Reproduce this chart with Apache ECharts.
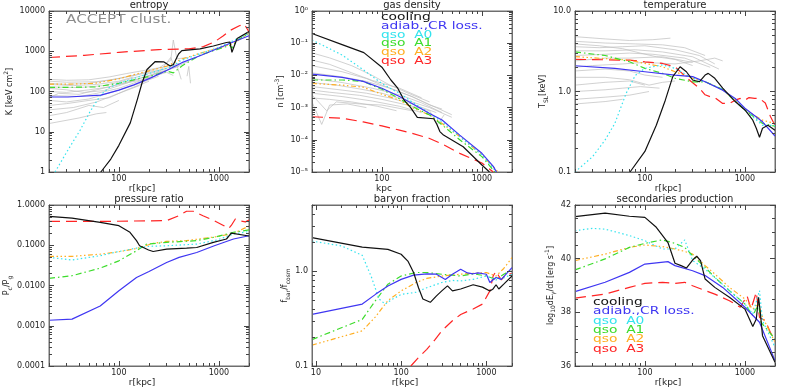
<!DOCTYPE html>
<html>
<head>
<meta charset="utf-8">
<script src="https://cdn.jsdelivr.net/npm/echarts@6/dist/echarts.min.js"></script>
<style>
  html, body { margin: 0; padding: 0; background: #fff; }
  .layer { position: absolute; left: 0; top: 0; width: 789px; height: 388px; }
  #ticks { pointer-events: none; }
</style>
</head>
<body>
<div id="chart" class="layer"></div>
<div id="ticks" class="layer"></div>
<script>
// ---------- data: [r in kpc, value] ----------

// entropy K [keV cm^2]
const entCooling = [[60,0.7],[66,1],[83,2.1],[100,4.6],[130,16.6],[152,60],[170,160],[191,352],[231,555],[280,546],[326,430],[351,470],[395,855],[426,1040],[647,1150],[880,1350],[1190,1650],[1290,1700],[1350,940],[1520,2070],[2000,3070]];
const entAdiab = [[20,73],[31,73],[66,81],[100,108],[141,146],[206,215],[303,338],[426,520],[647,775],[1000,1200],[1390,1700],[2000,2420]];
const entA0 = [[23,1],[30,3.1],[41,11],[52,33],[66,83],[80,125],[100,160],[150,220],[200,280],[300,380],[350,430],[400,560],[650,880],[1000,1250],[1500,2000],[2000,2750]];
const entA1 = [[20,127],[31,127],[58,130],[100,160],[141,195],[206,240],[303,318],[351,290],[426,430],[647,800],[1000,1140],[1290,1400],[1350,1200],[1520,1880],[2000,2800]];
const entA2 = [[20,152],[31,152],[58,160],[100,206],[141,263],[206,330],[303,430],[426,640],[647,890],[1000,1220],[1390,1540],[2000,2800]];
const entA3 = [[20,700],[45,790],[100,940],[250,1100],[500,1150],[700,1300],[900,1700],[1100,2400],[1300,3300],[1600,4300],[1800,4700],[2000,3000]];
const entGray = [
  [[20,200],[30,190],[50,195],[80,230],[120,280],[200,350],[300,420],[400,500]],
  [[20,160],[30,150],[50,160],[80,190],[150,260],[250,380],[330,600],[350,1900],[380,650],[500,700]],
  [[20,130],[40,125],[70,140],[100,170],[200,280],[300,370]],
  [[20,100],[30,95],[50,110],[80,130],[150,200],[250,300],[400,420]],
  [[20,80],[40,75],[60,90],[100,120],[200,220],[300,300],[350,250]],
  [[20,60],[30,55],[50,65],[90,100],[150,150],[250,240]],
  [[20,45],[30,50],[50,60],[80,70],[120,110],[200,180]],
  [[20,35],[35,40],[60,55],[100,90],[160,140]],
  [[20,25],[30,30],[50,45],[70,40],[100,60]],
  [[20,16],[40,22],[60,28],[75,30]],
  [[20,180],[30,170],[60,175],[100,210],[200,300],[300,380],[380,450],[420,200]],
  [[20,120],[30,110],[45,95],[70,105],[110,150],[180,230],[300,330],[500,560]],
  [[20,70],[25,90],[40,85],[60,110],[100,150],[180,200],[260,330],[330,700],[360,400]],
  [[20,150],[35,140],[60,150],[100,180],[140,230]],
  [[480,240],[500,420],[520,160]]
];

// gas density n [cm^-3]
const denCooling = [[20,0.2],[40,0.09],[66,0.051],[100,0.018],[123,0.0072],[144,0.004],[167,0.0017],[194,0.001],[226,0.0005],[330,0.00045],[355,0.0003],[380,0.00018],[413,0.00014],[650,0.000061],[1000,0.0000165],[1190,0.00001]];
const denAdiab = [[20,0.011],[40,0.0087],[65,0.0065],[100,0.004],[150,0.0022],[200,0.00135],[300,0.00066],[400,0.00041],[600,0.00014],[1000,0.000038],[1300,0.000015],[1400,0.00001]];
const denA0 = [[20,0.126],[40,0.043],[65,0.015],[100,0.0056],[130,0.0035],[150,0.0028],[200,0.0015],[300,0.00066],[400,0.00036],[600,0.000126],[1000,0.000034],[1400,0.00001]];
const denA1 = [[20,0.0072],[40,0.0072],[65,0.0065],[100,0.0037],[150,0.0019],[200,0.0011],[300,0.00059],[400,0.00029],[600,0.0001],[1000,0.00003],[1350,0.00001]];
const denA2 = [[20,0.0056],[40,0.005],[65,0.0043],[100,0.0026],[150,0.0017],[200,0.001],[300,0.00059],[400,0.00032],[600,0.000126],[1000,0.000034],[1450,0.00001]];
const denA3 = [[20,0.00052],[40,0.00047],[65,0.00036],[100,0.00027],[150,0.0002],[200,0.00016],[300,0.00011],[400,0.000074],[600,0.000038],[1000,0.000019],[1300,0.00001]];
const denGray = [
  [[20,0.05],[30,0.035],[50,0.02],[80,0.01],[120,0.005],[200,0.0025],[300,0.0015]],
  [[20,0.02],[40,0.013],[70,0.008],[100,0.005],[200,0.0022],[300,0.0012],[400,0.0009]],
  [[20,0.012],[40,0.009],[70,0.0065],[120,0.004],[200,0.0022],[350,0.001],[500,0.0006]],
  [[20,0.008],[40,0.006],[80,0.004],[150,0.0025],[250,0.0014],[400,0.0007]],
  [[20,0.006],[35,0.005],[60,0.0038],[100,0.0028],[200,0.0015],[300,0.001],[500,0.0005]],
  [[20,0.0045],[40,0.0035],[70,0.0028],[120,0.002],[200,0.0013],[350,0.0007]],
  [[20,0.0035],[30,0.003],[60,0.0024],[100,0.0018],[180,0.0012],[300,0.0008],[360,0.0003],[420,0.0006]],
  [[20,0.0028],[40,0.0022],[80,0.0016],[150,0.0011],[250,0.0007]],
  [[20,0.002],[30,0.0018],[50,0.0015],[90,0.0011],[140,0.0008]],
  [[20,0.0015],[25,0.0003],[30,0.0012],[45,0.0013],[70,0.001]],
  [[20,0.0025],[28,0.0008],[35,0.0015],[60,0.0013],[100,0.0012],[200,0.0008]],
  [[20,0.03],[30,0.022],[50,0.012],[80,0.007],[150,0.004],[250,0.002]]
];

// temperature T_SL [keV]
const temCooling = [[71,0.1],[100,0.18],[130,0.38],[160,0.78],[190,1.53],[225,2.03],[260,1.76],[300,1.39],[350,1.32],[400,1.6],[430,1.68],[500,1.46],[600,1.1],[800,0.75],[1000,0.59],[1200,0.44],[1300,0.35],[1400,0.27],[1500,0.35],[1700,0.38],[2000,0.33]];
const temAdiab = [[20,2.09],[50,1.94],[100,1.76],[200,1.6],[300,1.53],[400,1.32],[600,1.04],[800,0.82],[1000,0.62],[1500,0.42],[2000,0.28]];
const temA0 = [[20,0.1],[30,0.155],[40,0.25],[50,0.4],[65,0.95],[80,1.58],[100,1.94],[150,2.14],[200,1.94],[300,1.46],[400,1.32],[600,1.06],[1000,0.59],[1500,0.38],[2000,0.38]];
const temA1 = [[20,3.1],[40,2.8],[70,2.34],[100,1.94],[150,1.68],[200,1.46],[300,1.32],[400,1.32],[600,1.06],[1000,0.59],[1500,0.4],[2000,0.37]];
const temA2 = [[20,2.71],[70,2.45],[100,2.23],[150,2.03],[200,1.76],[300,1.46],[400,1.32],[600,1.06],[1000,0.59],[1500,0.44],[2000,0.4]];
const temA3 = [[20,2.51],[70,2.45],[100,2.34],[150,2.23],[200,2.03],[280,1.38],[350,1.1],[400,0.91],[450,0.86],[500,0.84],[600,0.71],[700,0.71],[800,0.78],[900,0.82],[1000,0.78],[1100,0.84],[1250,0.82],[1400,0.82],[1600,0.72],[1800,0.49],[2000,0.38]];
const temGray = [
  [[20,4.8],[40,4.5],[70,4.3],[120,4.4],[180,4.6]],
  [[20,4.2],[40,4.0],[80,3.9],[150,3.8],[250,3.5],[400,2.8]],
  [[20,3.6],[35,3.5],[60,3.6],[100,3.7],[200,3.3],[350,2.8],[500,2.2]],
  [[20,3.2],[40,3.2],[80,3.3],[150,3.1],[300,2.7],[550,1.9]],
  [[20,2.8],[40,2.9],[70,3.0],[120,2.9],[250,2.6],[450,2.0]],
  [[20,2.4],[40,2.6],[70,2.6],[150,2.7],[300,2.3]],
  [[20,2.0],[30,2.1],[60,2.2],[100,2.3],[200,2.2],[350,2.4],[500,2.6],[600,2.4]],
  [[20,1.8],[40,1.9],[70,1.8],[100,1.6],[150,1.5]],
  [[20,1.5],[40,1.5],[70,1.4],[110,1.2],[150,1.3],[200,1.35]],
  [[20,1.2],[40,1.3],[70,1.35],[100,1.2]],
  [[20,1.0],[40,1.05],[60,1.1],[90,1.15],[140,1.1]],
  [[20,0.8],[40,0.85],[70,0.9],[110,1.0]],
  [[20,0.7],[40,0.75],[60,0.8]],
  [[20,3.9],[35,3.7],[60,3.4],[90,3.0],[130,2.7],[200,2.5],[300,2.1]]
];

// pressure ratio P_c/P_g
const preCooling = [[20,0.52],[34,0.47],[65,0.37],[100,0.306],[129,0.21],[150,0.13],[161,0.097],[198,0.076],[220,0.07],[300,0.08],[475,0.085],[600,0.088],[880,0.118],[1190,0.143],[1330,0.2],[2000,0.17]];
const preAdiab = [[20,0.00137],[34,0.00146],[65,0.0031],[100,0.0074],[150,0.0158],[200,0.0223],[300,0.0374],[400,0.05],[600,0.066],[900,0.097],[1400,0.143],[2000,0.172]];
const preA0 = [[20,0.05],[34,0.043],[65,0.055],[100,0.07],[150,0.085],[200,0.094],[300,0.097],[600,0.107],[950,0.134],[1400,0.19],[2000,0.22]];
const preA1 = [[20,0.015],[34,0.0175],[65,0.027],[100,0.041],[150,0.073],[190,0.107],[300,0.118],[600,0.13],[950,0.163],[1400,0.21],[2000,0.24]];
const preA2 = [[20,0.053],[34,0.053],[65,0.06],[100,0.069],[150,0.083],[220,0.111],[300,0.125],[470,0.13],[950,0.163],[1400,0.197],[2000,0.3]];
const preA3 = [[20,0.39],[65,0.39],[300,0.41],[397,0.54],[475,0.7],[552,0.7],[693,0.54],[880,0.42],[1110,0.31],[1250,0.26],[1330,0.31],[1460,0.45],[1640,0.4],[1840,0.38],[2000,0.42]];

// baryon fraction f_bar/f_cosm
const barCooling = [[9,2.26],[35,1.8],[70,1.7],[100,1.51],[120,1.28],[140,0.97],[160,0.67],[180,0.51],[220,0.47],[260,0.55],[300,0.62],[350,0.7],[400,0.62],[500,0.65],[700,0.72],[900,0.68],[1100,0.62],[1200,0.65],[1300,0.72],[1400,0.65],[1600,0.73],[2000,0.89]];
const barAdiab = [[9,0.35],[35,0.45],[50,0.57],[70,0.7],[100,0.82],[140,0.91],[200,0.94],[260,0.93],[330,0.82],[400,0.93],[500,1.05],[600,0.96],[700,0.94],[800,0.96],[1000,0.93],[1100,0.76],[1300,0.86],[1500,0.82],[2000,1.09]];
const barA0 = [[9,2.08],[20,1.85],[35,1.47],[45,0.86],[55,0.51],[65,0.45],[80,0.51],[100,0.57],[150,0.6],[200,0.67],[300,0.76],[400,0.8],[500,0.79],[700,0.82],[1000,0.89],[1300,0.81],[1600,0.85],[2000,0.93]];
const barA1 = [[9,0.19],[35,0.31],[50,0.49],[70,0.73],[100,0.89],[150,0.97],[200,0.97],[300,0.93],[500,0.89],[700,0.94],[1000,0.89],[1300,0.82],[1600,0.93],[2000,1.03]];
const barA2 = [[9,0.166],[35,0.235],[50,0.33],[70,0.49],[100,0.62],[150,0.76],[200,0.84],[300,0.89],[500,0.93],[1000,0.97],[1300,0.89],[1600,1.07],[2000,1.39]];
const barA3 = [[130,0.1],[160,0.123],[200,0.15],[250,0.19],[300,0.235],[400,0.3],[500,0.35],[700,0.4],[900,0.45],[1100,0.62],[1200,0.89],[1300,1.0],[1400,0.89],[1500,0.81],[1700,0.93],[2000,0.94]];

// secondaries production log10 dE/dt [erg/s]
const secCooling = [[20,41.57],[40,41.7],[70,41.58],[100,41.54],[130,41.17],[170,40.6],[200,39.83],[230,39.74],[260,39.65],[300,39.95],[330,40.09],[360,39.93],[400,39.24],[500,38.93],[700,38.56],[1000,38.12],[1200,37.47],[1300,37.75],[1370,38.56],[1420,38.06],[1500,37.13],[2000,36.14]];
const secAdiab = [[20,38.77],[40,39.12],[70,39.49],[100,39.8],[170,39.89],[200,39.74],[300,39.55],[400,39.37],[600,38.93],[1000,38.19],[1400,37.63],[2000,36.2]];
const secA0 = [[20,41.04],[30,41.13],[40,41.1],[70,40.86],[100,40.67],[150,40.36],[200,40.36],[250,40.7],[300,39.93],[400,39.61],[500,39.3],[700,38.81],[1000,38.31],[1200,37.94],[1400,38.81],[1500,37.69],[2000,36.7]];
const secA1 = [[20,39.58],[40,39.99],[70,40.42],[100,40.57],[150,40.7],[200,40.57],[250,40.42],[300,40.11],[400,39.68],[500,39.3],[700,38.81],[1000,38.31],[1200,37.88],[1370,38.31],[1450,37.63],[2000,37.01]];
const secA2 = [[20,39.93],[40,40.17],[70,40.42],[100,40.51],[150,40.45],[200,40.36],[250,40.27],[300,40.17],[400,39.74],[500,39.43],[700,38.93],[1000,38.5],[1200,38.12],[1370,38.31],[1450,37.94],[2000,36.88]];
const secA3 = [[20,38.53],[40,38.68],[70,38.93],[100,39.08],[150,39.12],[200,39.08],[250,39.12],[300,38.99],[400,38.81],[500,38.68],[700,38.43],[900,38.19],[1050,38.62],[1150,38.12],[1300,38.75],[1400,37.81],[1600,37.69],[1800,37.25],[2000,36.94]];

// tick labels
const xTicks = [100, 1000];
const xTicksBar = [10, 100, 1000];
const yTicksEnt = [1, 10, 100, 1000, 10000];
const yTicksDen = [1e-5, 1e-4, 1e-3, 1e-2, 1e-1, 1];
const yTicksTem = [0.1, 1, 10];
const yTicksPre = [0.0001, 0.001, 0.01, 0.1, 1];
const yTicksBar = [0.1, 1];
const yTicksSec = [36, 38, 40, 42];

const titles = ['entropy', 'gas density', 'temperature', 'pressure ratio', 'baryon fraction', 'secondaries production'];
const legendNames = ['cooling', 'adiab.,CR loss.', 'qso  A0', 'qso  A1', 'qso  A2', 'qso  A3'];

// ---------- styling ----------
const FONT = 'DejaVu Sans';
const FRAME = '#6e6e6e';
const TICK = '#444444';
const TXT = '#222';
const COL = { cooling: '#111111', adiab: '#3f36f2', a0: '#33e3ee', a1: '#3ddc2c', a2: '#ffae22', a3: '#ff2424' };
const DASH = { cooling: 'solid', adiab: 'solid', a0: [1.5, 2.5], a1: [6, 3, 1.5, 3], a2: [5, 2.5, 1.5, 2.5, 1.5, 2.5, 1.5, 2.5], a3: [11, 6] };
const legendColors = [COL.cooling, COL.adiab, COL.a0, COL.a1, COL.a2, COL.a3];

const richName = {
  sup: { fontSize: 6, verticalAlign: 'top', fontFamily: FONT, color: TXT },
  sub: { fontSize: 6, verticalAlign: 'bottom', fontFamily: FONT, color: TXT }
};
const supDigits = { '-': '⁻', '0': '⁰', '1': '¹', '2': '²', '3': '³', '4': '⁴', '5': '⁵' };

const panels = [
  { left: 49, top: 11, xMin: 20, xMax: 2000, xLab: xTicks, xName: 'r[kpc]', yType: 'log', yMin: 1, yMax: 10000, yLab: yTicksEnt,
    fmt: v => String(Math.round(v)), yName: 'K [keV cm{sup|2}]', yGap: 31,
    data: { gray: entGray, a3: entA3, a2: entA2, a1: entA1, a0: entA0, adiab: entAdiab, cooling: entCooling } },
  { left: 312, top: 11, xMin: 20, xMax: 2000, xLab: xTicks, xName: 'kpc', xShift: 56, yType: 'log', yMin: 1e-5, yMax: 1, yLab: yTicksDen,
    fmt: v => '10' + String(Math.round(Math.log10(v))).split('').map(c => supDigits[c]).join(''), yName: 'n [cm{sup|-3}]', yGap: 24,
    data: { gray: denGray, a3: denA3, a2: denA2, a1: denA1, a0: denA0, adiab: denAdiab, cooling: denCooling } },
  { left: 575, top: 11, xMin: 20, xMax: 2000, xLab: xTicks, xName: 'r[kpc]', yType: 'log', yMin: 0.1, yMax: 10, yLab: yTicksTem,
    fmt: v => Number(v).toFixed(1), yName: 'T{sub|SL}[keV]', yGap: 22,
    data: { gray: temGray, a3: temA3, a2: temA2, a1: temA1, a0: temA0, adiab: temAdiab, cooling: temCooling } },
  { left: 49, top: 205, xMin: 20, xMax: 2000, xLab: xTicks, xName: 'r[kpc]', yType: 'log', yMin: 0.0001, yMax: 1, yLab: yTicksPre,
    fmt: v => Number(v).toFixed(4), yName: 'P{sub|c}/P{sub|g}', yGap: 33,
    data: { a3: preA3, a2: preA2, a1: preA1, a0: preA0, adiab: preAdiab, cooling: preCooling } },
  { left: 312, top: 205, xMin: 9, xMax: 2000, xLab: xTicksBar, xName: 'r[kpc]', yType: 'log', yMin: 0.1, yMax: 5, yLab: yTicksBar,
    fmt: v => Number(v).toFixed(1), yName: 'f{sub|bar}/f{sub|cosm}', yGap: 19,
    data: { a3: barA3, a2: barA2, a1: barA1, a0: barA0, adiab: barAdiab, cooling: barCooling } },
  { left: 575, top: 205, xMin: 20, xMax: 2000, xLab: xTicks, xName: 'r[kpc]', yType: 'value', yMin: 36, yMax: 42, yLab: yTicksSec,
    fmt: v => String(v), yName: 'log{sub|10}dE{sub|γ}/dt [erg s{sup|-1}]', yGap: 16,
    data: { a3: secA3, a2: secA2, a1: secA1, a0: secA0, adiab: secAdiab, cooling: secCooling } }
];
const W = 200, H = 161;

// minor tick positions between the labelled ones
function minorTicks(type, min, max, majors) {
  const out = [];
  if (type === 'log') {
    for (let e = -6; e <= 4; e++) {
      for (let m = 1; m < 10; m++) {
        const v = +(m * Math.pow(10, e)).toPrecision(6);
        if (v >= min && v <= max && majors.indexOf(v) < 0) out.push(v);
      }
    }
  } else {
    for (let v = min; v <= max; v += 0.5) if (majors.indexOf(v) < 0) out.push(v);
  }
  return out;
}

// ---------- layer 1: frame, labels, curves, texts ----------
const grid = [], xAxis = [], yAxis = [], series = [], graphic = [];

panels.forEach((p, i) => {
  grid.push({ left: p.left, top: p.top, width: W, height: H, show: true, borderColor: FRAME, borderWidth: 1, backgroundColor: 'transparent' });

  xAxis.push({ gridIndex: i, type: 'log', logBase: 10, min: p.xMin, max: p.xMax, position: 'bottom',
    splitLine: { show: false }, axisTick: { show: false },
    axisLine: { show: true, onZero: false, lineStyle: { color: FRAME } },
    axisLabel: { show: true, customValues: p.xLab, margin: 3, fontSize: 8, color: TXT, fontFamily: FONT, formatter: v => String(Math.round(v)) },
    name: p.xName, nameLocation: 'middle', nameGap: 9,
    nameTextStyle: { fontSize: 9, color: TXT, fontFamily: FONT, verticalAlign: 'top', padding: [0, p.xShift || 14, 0, 0] } });

  const ya = { gridIndex: i, type: p.yType, min: p.yMin, max: p.yMax, position: 'left',
    splitLine: { show: false }, axisTick: { show: false },
    axisLine: { show: true, onZero: false, lineStyle: { color: FRAME } },
    axisLabel: { show: true, customValues: p.yLab, margin: 4, fontSize: 8, color: TXT, fontFamily: FONT, formatter: p.fmt },
    name: p.yName, nameLocation: 'middle', nameGap: p.yGap, nameRotate: 90,
    nameTextStyle: { fontSize: 8, color: TXT, fontFamily: FONT, lineHeight: 12, rich: richName } };
  if (p.yType === 'log') ya.logBase = 10;
  yAxis.push(ya);

  (p.data.gray || []).forEach(g => series.push({
    type: 'line', xAxisIndex: i, yAxisIndex: i, data: g, symbol: 'none',
    lineStyle: { color: '#bdbdbd', width: 0.7 }
  }));
  ['a3', 'a2', 'a1', 'a0', 'adiab', 'cooling'].forEach(k => series.push({
    type: 'line', xAxisIndex: i, yAxisIndex: i, data: p.data[k], symbol: 'none',
    lineStyle: { color: COL[k], width: 1.2, type: DASH[k] }
  }));

  graphic.push({ type: 'text', x: p.left + W / 2, y: p.top - 5.5, silent: true,
    style: { text: titles[i], fill: TXT, font: '10px "DejaVu Sans"', textAlign: 'center', textVerticalAlign: 'middle', align: 'center', verticalAlign: 'middle' } });
});

// text legends inside the density and secondaries panels
function legendBlock(x, y0, dy) {
  legendNames.forEach((t, k) => graphic.push({ type: 'text', x: x, y: y0 + k * dy, scaleX: 1.38, silent: true,
    style: { text: t, fill: legendColors[k], font: '10px "DejaVu Sans"', textAlign: 'left', textVerticalAlign: 'middle', align: 'left', verticalAlign: 'middle' } }));
}
legendBlock(381, 17.5, 8.8);
legendBlock(593, 302.5, 9.35);

graphic.push({ type: 'text', x: 66, y: 20, scaleX: 1.17, silent: true,
  style: { text: 'ACCEPT clust.', fill: '#8c8c8c', font: '13px "DejaVu Sans"', textAlign: 'left', textVerticalAlign: 'middle', align: 'left', verticalAlign: 'middle' } });

echarts.init(document.getElementById('chart')).setOption({
  animation: false, grid: grid, xAxis: xAxis, yAxis: yAxis, series: series, graphic: graphic
});

// ---------- layer 2: inward major/minor ticks on all four sides ----------
// built the same way as the small test page where these ticks did draw
function tickAxes(i, type, min, max, majors, pos, withLabel) {
  const base = { gridIndex: i, type: type, min: min, max: max, position: pos,
    splitLine: { show: false }, splitArea: { show: false } };
  if (type === 'log') base.logBase = 10;
  const major = Object.assign({}, base, {
    axisLine: { show: true, onZero: false, lineStyle: { color: FRAME, width: 1 } },
    axisTick: { show: true, inside: true, length: 5, customValues: majors, lineStyle: { color: TICK } },
    axisLabel: withLabel ? { show: true, customValues: majors, fontSize: 8, color: 'rgba(0,0,0,0)' } : { show: false }
  });
  const minor = Object.assign({}, base, {
    axisLine: { show: false, onZero: false },
    axisTick: { show: true, inside: true, length: 3, customValues: minorTicks(type, min, max, majors), lineStyle: { color: TICK } },
    axisLabel: { show: false }
  });
  return [major, minor];
}
const tGrid = [], tX = [], tY = [], tSeries = [];
panels.forEach((p, i) => {
  tGrid.push({ left: p.left, top: p.top, width: W, height: H });
  tX.push(...tickAxes(i, 'log', p.xMin, p.xMax, p.xLab, 'bottom', true), ...tickAxes(i, 'log', p.xMin, p.xMax, p.xLab, 'top', false));
  tY.push(...tickAxes(i, p.yType, p.yMin, p.yMax, p.yLab, 'left', true), ...tickAxes(i, p.yType, p.yMin, p.yMax, p.yLab, 'right', false));
  tSeries.push({ type: 'line', xAxisIndex: i * 4, yAxisIndex: i * 4, data: [[p.xMin, p.yMin], [p.xMax, p.yMax]], symbol: 'none', lineStyle: { opacity: 0 } });
});
echarts.init(document.getElementById('ticks')).setOption({
  animation: false, grid: tGrid, xAxis: tX, yAxis: tY, series: tSeries
});
</script>
</body>
</html>
